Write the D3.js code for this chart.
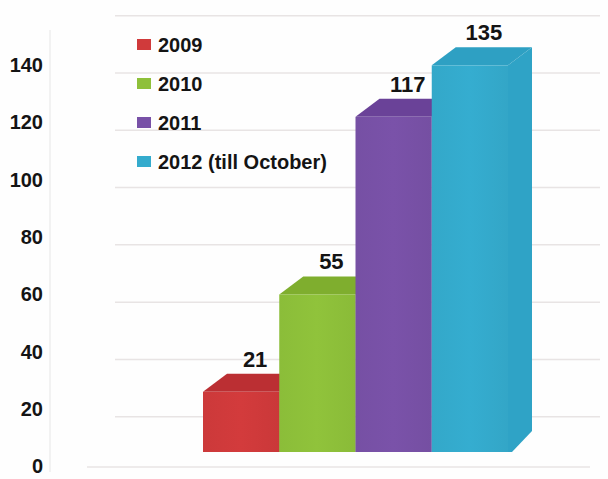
<!DOCTYPE html>
<html>
<head>
<meta charset="utf-8">
<script src="https://cdn.jsdelivr.net/npm/d3@7"></script>
<style>
  body { margin: 0; background: #fff; }
  text { font-family: "Liberation Sans", Arial, sans-serif; font-weight: bold; fill: #141414; }
</style>
</head>
<body>
<div id="container"></div>
<script>
let w = 608;
let h = 479;

// DATA
let years = ["2009", "2010", "2011", "2012"];
let values = [21, 55, 117, 135];
let legendLabels = ["2009", "2010", "2011", "2012 (till October)"];
let yTicks = [0, 20, 40, 60, 80, 100, 120, 140];
let gridValues = [0, 20, 40, 60, 80, 100, 120, 140, 160];

// colours: front, top, side
let frontColors = ["#d03a3b", "#8ec03a", "#7851a7", "#34abcd"];
let topColors = ["#bb2f33", "#7fae2e", "#6a4298", "#2ea0c3"];
let sideColors = ["#c23235", "#84b232", "#6d469b", "#2fa3c6"];

let viz = d3.select("#container").append("svg")
    .attr("width", w)
    .attr("height", h)
    .style("background-color", "#fefefe");

// SCALES
let yScale = d3.scaleLinear().domain([0, 160]).range([466, 7.7]);
let xScale = d3.scaleBand().domain(years).range([203, 508]).paddingInner(0);

// 3d look
let depthX = 24;
let depthY = 18;
let floorLift = 14; // front faces sit above the axis zero

// faint vertical axis line
viz.append("line")
  .attr("x1", 50).attr("x2", 50)
  .attr("y1", 30).attr("y2", 472)
  .attr("stroke", "#eeeeee")
  .attr("stroke-width", 1.5);

// GRIDLINES (drawn on the back wall)
viz.selectAll(".grid").data(gridValues).enter()
  .append("line")
    .attr("class", "grid")
    .attr("x1", function(d){ return d == 0 ? 87 : 115; })
    .attr("x2", function(d){ return d == 0 ? 590 : 600; })
    .attr("y1", function(d){ return d == 0 ? yScale(d) + 1 : yScale(d) + 8; })
    .attr("y2", function(d){ return d == 0 ? yScale(d) + 1 : yScale(d) + 8; })
    .attr("stroke", "#e8e4e4")
    .attr("stroke-width", 1.5);

// Y AXIS LABELS
viz.selectAll(".ylabel").data(yTicks).enter()
  .append("text")
    .attr("class", "ylabel")
    .attr("x", 43)
    .attr("y", function(d){ return yScale(d); })
    .attr("dy", "0.36em")
    .attr("text-anchor", "end")
    .style("font-size", "20px")
    .text(function(d){ return d; });

// soft gradient for the front faces
let defs = viz.append("defs");
years.forEach(function(y, i){
  let g = defs.append("linearGradient")
    .attr("id", "grad" + i)
    .attr("x1", "0%").attr("x2", "100%").attr("y1", "0%").attr("y2", "0%");
  let c = d3.color(frontColors[i]);
  g.append("stop").attr("offset", "0%").attr("stop-color", c.darker(0.05));
  g.append("stop").attr("offset", "50%").attr("stop-color", c.brighter(0.04));
  g.append("stop").attr("offset", "100%").attr("stop-color", c.darker(0.08));
});

// BARS
let bars = viz.selectAll(".bar").data(values).enter()
  .append("g")
    .attr("class", "bar");

// right side face
bars.append("path")
  .attr("d", function(d, i){
    let x1 = xScale(years[i]) + xScale.bandwidth();
    let yt = yScale(d) - floorLift;
    let yb = yScale(0) - floorLift;
    return "M" + x1 + "," + yt +
      "L" + (x1 + depthX) + "," + (yt - depthY) +
      "L" + (x1 + depthX) + "," + (yb - depthY - 3) +
      "L" + (x1 + 4) + "," + yb +
      "L" + x1 + "," + yb + "Z";
  })
  .attr("fill", function(d, i){ return sideColors[i]; });

// top face
bars.append("path")
  .attr("d", function(d, i){
    let x0 = xScale(years[i]);
    let x1 = x0 + xScale.bandwidth();
    let yt = yScale(d) - floorLift;
    return "M" + x0 + "," + yt +
      "L" + (x0 + depthX) + "," + (yt - depthY) +
      "L" + (x1 + depthX) + "," + (yt - depthY) +
      "L" + x1 + "," + yt + "Z";
  })
  .attr("fill", function(d, i){ return topColors[i]; });

// front face
bars.append("rect")
  .attr("x", function(d, i){ return xScale(years[i]); })
  .attr("y", function(d){ return yScale(d) - floorLift; })
  .attr("width", xScale.bandwidth())
  .attr("height", function(d){ return yScale(0) - yScale(d); })
  .attr("fill", function(d, i){ return "url(#grad" + i + ")"; });

// VALUE LABELS
viz.selectAll(".vlabel").data(values).enter()
  .append("text")
    .attr("class", "vlabel")
    .attr("x", function(d, i){ return xScale(years[i]) + xScale.bandwidth() / 2 + 14; })
    .attr("y", function(d){ return yScale(d) - floorLift - 25; })
    .attr("text-anchor", "middle")
    .style("font-size", "22px")
    .text(function(d){ return d; });

// LEGEND
let legend = viz.selectAll(".legend").data(legendLabels).enter()
  .append("g")
    .attr("class", "legend")
    .attr("transform", function(d, i){ return "translate(137," + (52 + i * 39) + ")"; });

legend.append("rect")
  .attr("x", 0)
  .attr("y", -13)
  .attr("width", 14)
  .attr("height", 11)
  .attr("fill", function(d, i){ return frontColors[i]; });

legend.append("text")
  .attr("x", 21)
  .attr("y", 0)
  .style("font-size", "20px")
  .text(function(d){ return d; });
</script>
</body>
</html>
